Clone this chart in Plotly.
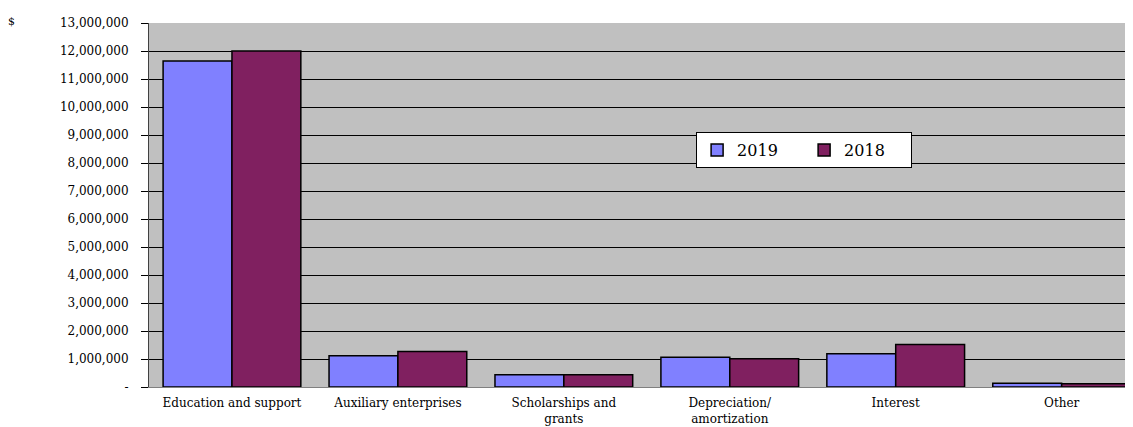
import plotly.graph_objects as go

categories = ["Education and support", "Auxiliary enterprises", "Scholarships and<br>grants",
              "Depreciation/<br>amortization", "Interest", "Other"]
values_2019 = [11640000, 1120000, 440000, 1060000, 1190000, 130000]
values_2018 = [12000000, 1270000, 440000, 1010000, 1520000, 120000]
tick_values = list(range(0, 13000001, 1000000))
tick_labels = ["-"] + [f"{v:,}" for v in tick_values[1:]]

FONT = "DejaVu Serif"

fig = go.Figure()
fig.add_trace(go.Bar(name="2019", x=categories, y=values_2019,
                     marker=dict(color="#8080FF", line=dict(color="black", width=1.5))))
fig.add_trace(go.Bar(name="2018", x=categories, y=values_2018,
                     marker=dict(color="#802060", line=dict(color="black", width=1.5))))

fig.update_layout(
    width=1125, height=419,
    margin=dict(l=141, r=0, t=15, b=40),
    paper_bgcolor="white", plot_bgcolor="#C0C0C0",
    barmode="group", bargap=0.17, bargroupgap=0,
    font=dict(family=FONT, color="black", size=12),
    showlegend=True,
    legend=dict(orientation="h", x=0.556, y=0.70, xanchor="left", yanchor="top",
                bgcolor="white", bordercolor="black", borderwidth=1,
                font=dict(family=FONT, size=16), itemwidth=30,
                entrywidth=62, entrywidthmode="pixels"),
)
fig.update_xaxes(range=[-0.5, 5.43], showline=True, linecolor="#808080", linewidth=1,
                 ticks="", ticklabelstandoff=5, automargin=False,
                 tickfont=dict(family=FONT, size=12), showgrid=False)
fig.update_yaxes(range=[0, 13000000], tickvals=tick_values, ticktext=tick_labels,
                 showgrid=True, gridcolor="black", gridwidth=1, automargin=False,
                 showline=True, linecolor="#404040", linewidth=1,
                 ticks="outside", ticklen=7, tickcolor="black", ticklabelstandoff=10,
                 tickfont=dict(family=FONT, size=12), zeroline=False)
fig.add_annotation(text="$", xref="paper", yref="paper", x=-0.140, y=1.003,
                   xanchor="center", yanchor="middle", showarrow=False,
                   font=dict(family=FONT, size=11))

fig.write_html("out.html")
